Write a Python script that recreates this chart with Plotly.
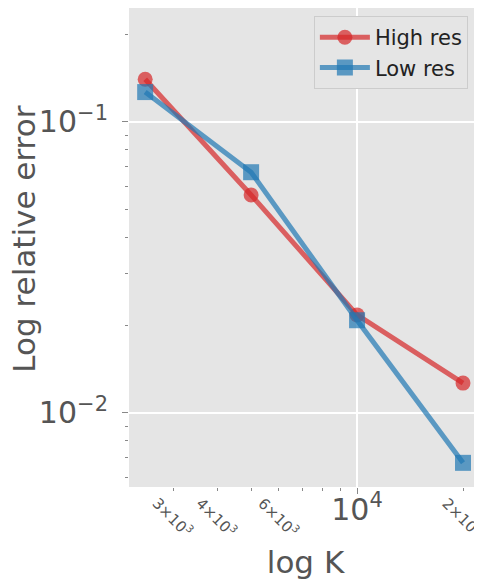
import plotly.graph_objects as go
import math

K = [2500, 5000, 10000, 20000]
high_res = [0.140, 0.056, 0.0217, 0.01265]
low_res = [0.1265, 0.0671, 0.0208, 0.00673]

x_major_vals = [10000]
x_major_text = ["10<sup>4</sup>"]
x_minor_vals = [3000, 4000, 5000, 6000, 7000, 8000, 9000, 20000]
x_minor_labels = {3000: "3×10<sup>3</sup>", 4000: "4×10<sup>3</sup>",
                  6000: "6×10<sup>3</sup>", 20000: "2×10<sup>4</sup>"}
y_major_vals = [0.01, 0.1]
y_major_text = ["10<sup>−2</sup>", "10<sup>−1</sup>"]
y_minor_vals = [0.006, 0.007, 0.008, 0.009, 0.02, 0.03, 0.04, 0.05,
                0.06, 0.07, 0.08, 0.09, 0.2]

RED = "rgba(214,39,40,0.7)"
BLUE = "rgba(31,119,180,0.7)"
FONT = "DejaVu Sans"
GREY = "#555555"

fig = go.Figure()
fig.add_trace(go.Scatter(x=K, y=high_res, name="High res", mode="lines+markers",
                         line=dict(color=RED, width=5),
                         marker=dict(symbol="circle", size=15, color=RED)))
fig.add_trace(go.Scatter(x=K, y=low_res, name="Low res", mode="lines+markers",
                         line=dict(color=BLUE, width=5),
                         marker=dict(symbol="square", size=16, color=BLUE)))

annotations = []
for v, t in x_minor_labels.items():
    annotations.append(dict(x=math.log10(v), xref="x", y=-0.062, yref="paper",
                            text=t, showarrow=False, textangle=45,
                            font=dict(family=FONT, size=15, color=GREY),
                            xanchor="center", yanchor="middle"))
# y-axis title
annotations.append(dict(x=-0.298, xref="paper", y=0.518, yref="paper",
                        text="Log relative error", showarrow=False, textangle=-90,
                        font=dict(family=FONT, size=31, color=GREY),
                        xanchor="center", yanchor="middle"))

# page body has an 8px margin, so the figure is sized to the visible area
fig.update_layout(
    width=474, height=573,
    margin=dict(l=121, r=0, t=0, b=94),
    paper_bgcolor="white",
    plot_bgcolor="#E5E5E5",
    font=dict(family=FONT, color=GREY),
    showlegend=True,
    legend=dict(x=0.96, y=0.983, xanchor="right", yanchor="top",
                bgcolor="#E5E5E5", bordercolor="#CCCCCC", borderwidth=1,
                font=dict(family=FONT, size=21, color="#222222"),
                itemwidth=50, tracegroupgap=0),
    annotations=annotations,
    xaxis=dict(type="log", range=[3.352, 4.355], automargin=False,
               tickmode="array", tickvals=x_major_vals, ticktext=x_major_text,
               tickfont=dict(family=FONT, size=30, color=GREY),
               ticklabelstandoff=-10,
               ticks="outside", ticklen=6, tickcolor="#888888", tickwidth=1,
               showgrid=True, gridcolor="white", gridwidth=1.5,
               showline=False, zeroline=False,
               minor=dict(tickmode="array", tickvals=x_minor_vals, ticks="outside",
                          ticklen=3, tickcolor="#888888", showgrid=False),
               title=dict(text="log K", font=dict(family=FONT, size=31, color=GREY),
                          standoff=25)),
    yaxis=dict(type="log", range=[-2.255, -0.609], automargin=False,
               tickmode="array", tickvals=y_major_vals, ticktext=y_major_text,
               tickfont=dict(family=FONT, size=30, color=GREY),
               ticklabelstandoff=8,
               ticks="outside", ticklen=6, tickcolor="#888888", tickwidth=1,
               showgrid=True, gridcolor="white", gridwidth=1.5,
               showline=False, zeroline=False,
               minor=dict(tickmode="array", tickvals=y_minor_vals, ticks="outside",
                          ticklen=3, tickcolor="#888888", showgrid=False)),
)

fig.write_html("out.html")
